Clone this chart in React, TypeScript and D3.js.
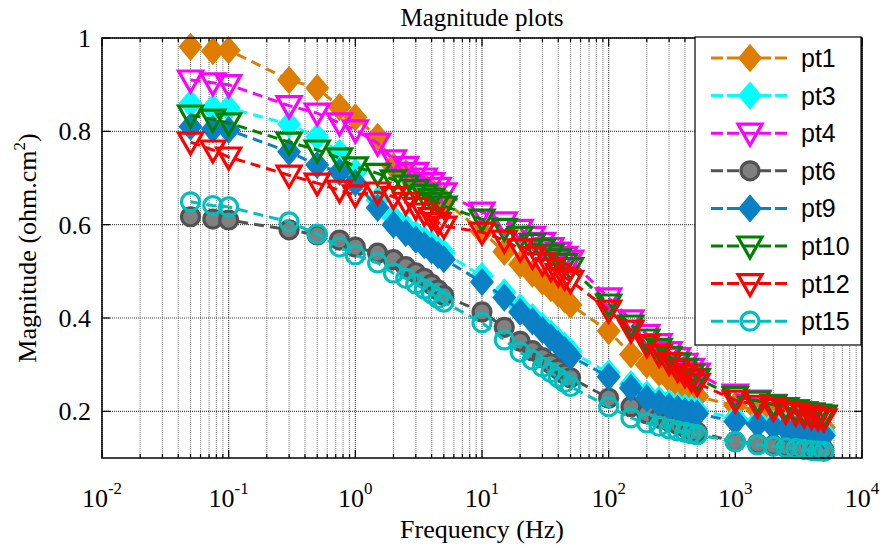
import React from "react";
import * as d3 from "d3";

const freq = [0.05, 0.075, 0.1, 0.3, 0.5, 0.75, 1, 1.5, 2, 2.5, 3, 3.5, 4, 4.5, 5, 10, 15, 20, 25, 30, 35, 40, 45, 50, 100, 150, 200, 250, 300, 350, 400, 450, 500, 1000, 1500, 2000, 2500, 3000, 3500, 4000, 4500, 5000];

const pt1 = [0.981, 0.972, 0.974, 0.91, 0.893, 0.852, 0.83, 0.788, 0.725, 0.71, 0.695, 0.683, 0.672, 0.662, 0.652, 0.585, 0.542, 0.515, 0.495, 0.478, 0.464, 0.452, 0.44, 0.428, 0.372, 0.322, 0.3, 0.283, 0.27, 0.258, 0.249, 0.24, 0.232, 0.212, 0.202, 0.195, 0.188, 0.182, 0.177, 0.173, 0.17, 0.166];
const pt3 = [0.86, 0.85, 0.85, 0.815, 0.788, 0.754, 0.713, 0.653, 0.615, 0.595, 0.58, 0.568, 0.558, 0.548, 0.54, 0.49, 0.455, 0.423, 0.402, 0.383, 0.367, 0.352, 0.34, 0.328, 0.282, 0.258, 0.236, 0.225, 0.218, 0.212, 0.208, 0.205, 0.202, 0.186, 0.179, 0.174, 0.17, 0.167, 0.164, 0.161, 0.158, 0.155];
const pt4 = [0.91, 0.904, 0.9, 0.855, 0.839, 0.818, 0.803, 0.775, 0.739, 0.725, 0.712, 0.7, 0.69, 0.68, 0.668, 0.627, 0.606, 0.59, 0.575, 0.562, 0.551, 0.541, 0.532, 0.524, 0.443, 0.396, 0.365, 0.345, 0.328, 0.315, 0.303, 0.292, 0.282, 0.237, 0.224, 0.215, 0.208, 0.203, 0.199, 0.196, 0.193, 0.19];
const pt6 = [0.617, 0.612, 0.61, 0.589, 0.578, 0.567, 0.552, 0.539, 0.525, 0.51, 0.497, 0.485, 0.472, 0.46, 0.448, 0.413, 0.38, 0.35, 0.33, 0.315, 0.302, 0.29, 0.28, 0.272, 0.228, 0.21, 0.195, 0.185, 0.178, 0.172, 0.166, 0.16, 0.155, 0.135, 0.13, 0.127, 0.124, 0.122, 0.12, 0.119, 0.118, 0.117];
const pt9 = [0.81, 0.805, 0.803, 0.756, 0.728, 0.713, 0.69, 0.636, 0.6, 0.582, 0.568, 0.556, 0.545, 0.535, 0.526, 0.477, 0.444, 0.413, 0.393, 0.374, 0.358, 0.344, 0.331, 0.318, 0.274, 0.25, 0.228, 0.217, 0.21, 0.205, 0.2, 0.197, 0.195, 0.178, 0.172, 0.167, 0.163, 0.16, 0.157, 0.154, 0.151, 0.148];
const pt10 = [0.835, 0.826, 0.818, 0.777, 0.76, 0.743, 0.724, 0.71, 0.696, 0.685, 0.675, 0.665, 0.656, 0.648, 0.64, 0.612, 0.592, 0.575, 0.56, 0.548, 0.537, 0.527, 0.517, 0.508, 0.43, 0.385, 0.355, 0.335, 0.318, 0.304, 0.292, 0.28, 0.27, 0.232, 0.222, 0.214, 0.208, 0.203, 0.199, 0.196, 0.194, 0.192];
const pt12 = [0.777, 0.76, 0.745, 0.706, 0.689, 0.674, 0.664, 0.67, 0.66, 0.648, 0.637, 0.625, 0.615, 0.605, 0.597, 0.584, 0.567, 0.548, 0.532, 0.518, 0.506, 0.495, 0.487, 0.48, 0.417, 0.374, 0.343, 0.322, 0.305, 0.29, 0.279, 0.269, 0.26, 0.224, 0.213, 0.206, 0.2, 0.196, 0.192, 0.189, 0.186, 0.184];
const pt15 = [0.649, 0.641, 0.638, 0.606, 0.58, 0.552, 0.535, 0.518, 0.496, 0.485, 0.473, 0.462, 0.452, 0.442, 0.434, 0.39, 0.353, 0.327, 0.31, 0.295, 0.283, 0.272, 0.262, 0.253, 0.21, 0.186, 0.175, 0.168, 0.162, 0.158, 0.155, 0.152, 0.15, 0.135, 0.128, 0.125, 0.122, 0.12, 0.118, 0.116, 0.115, 0.114];

const seriesNames = ["pt1", "pt3", "pt4", "pt6", "pt9", "pt10", "pt12", "pt15"];
const seriesValues = [pt1, pt3, pt4, pt6, pt9, pt10, pt12, pt15];

const xTickExps = [-2, -1, 0, 1, 2, 3, 4];
const yTicks = [0.2, 0.4, 0.6, 0.8, 1];
const yTickLabels = ["0.2", "0.4", "0.6", "0.8", "1"];

type Style = { line: string; marker: "diamond" | "tri" | "circle"; stroke: string; fill: string };
const styles: Style[] = [
  { line: "#DE7D00", marker: "diamond", stroke: "#DE7D00", fill: "#DE7D00" },
  { line: "#00FFFF", marker: "diamond", stroke: "#00FFFF", fill: "#00FFFF" },
  { line: "#FF00FF", marker: "tri", stroke: "#FF00FF", fill: "none" },
  { line: "#525252", marker: "circle", stroke: "#525252", fill: "#808080" },
  { line: "#0B80C4", marker: "diamond", stroke: "#0B80C4", fill: "#0B80C4" },
  { line: "#008000", marker: "tri", stroke: "#008000", fill: "none" },
  { line: "#FF0000", marker: "tri", stroke: "#FF0000", fill: "none" },
  { line: "#00BFBF", marker: "circle", stroke: "#00BFBF", fill: "none" },
];

const L = 102, R = 862, T = 38, B = 458;

function Marker({ s, x, y }: { s: Style; x: number; y: number }) {
  if (s.marker === "circle") {
    return <circle cx={x} cy={y} r={9} fill={s.fill} stroke={s.stroke} strokeWidth={3.2} />;
  }
  if (s.marker === "diamond") {
    return (
      <path d={`M${x},${y - 13}L${x + 11},${y}L${x},${y + 13}L${x - 11},${y}Z`} fill={s.fill} stroke={s.stroke} strokeWidth={1.5} />
    );
  }
  return (
    <path d={`M${x - 12},${y - 9}L${x + 12},${y - 9}L${x},${y + 12}Z`} fill="none" stroke={s.stroke} strokeWidth={3.2} strokeLinejoin="miter" />
  );
}

export default function App() {
  const x = d3.scaleLog().domain([1e-2, 1e4]).range([L, R]);
  const y = d3.scaleLinear().domain([0.1, 1]).range([B, T]);
  const line = d3
    .line<number>()
    .x((_, i) => x(freq[i]))
    .y((d) => y(d));

  const minor: number[] = [];
  for (let e = -2; e < 4; e++) for (let k = 2; k <= 9; k++) minor.push(k * Math.pow(10, e));
  const majors = xTickExps.map((e) => Math.pow(10, e));

  const serif = "'Liberation Serif', 'Times New Roman', serif";
  const sans = "'Liberation Sans', Arial, sans-serif";
  const legTop = 58, legStep = 37.6;

  return (
    <svg width={883} height={550} style={{ position: "absolute", left: 0, top: 0, background: "#fff" }}>
      <rect x={0} y={0} width={883} height={550} fill="#fff" />
      {/* grid */}
      <g strokeDasharray="1 1" strokeWidth={1.2}>
        {minor.map((m, i) => (
          <line key={"mg" + i} x1={x(m)} x2={x(m)} y1={T} y2={B} stroke="#8a8a8a" />
        ))}
        {majors.map((m, i) => (
          <line key={"Mg" + i} x1={x(m)} x2={x(m)} y1={T} y2={B} stroke="#444" />
        ))}
        {yTicks.map((v, i) => (
          <line key={"yg" + i} x1={L} x2={R} y1={y(v)} y2={y(v)} stroke="#444" />
        ))}
      </g>
      {/* ticks */}
      <g stroke="#000" strokeWidth={1.2}>
        {minor.map((m, i) => (
          <g key={"mt" + i}>
            <line x1={x(m)} x2={x(m)} y1={B} y2={B - 4} />
            <line x1={x(m)} x2={x(m)} y1={T} y2={T + 4} />
          </g>
        ))}
        {majors.map((m, i) => (
          <g key={"Mt" + i}>
            <line x1={x(m)} x2={x(m)} y1={B} y2={B - 8} />
            <line x1={x(m)} x2={x(m)} y1={T} y2={T + 8} />
          </g>
        ))}
        {yTicks.map((v, i) => (
          <g key={"yt" + i}>
            <line x1={L} x2={L + 8} y1={y(v)} y2={y(v)} />
            <line x1={R} x2={R - 8} y1={y(v)} y2={y(v)} />
          </g>
        ))}
      </g>
      {/* series */}
      {seriesValues.map((vals, si) => {
        const s = styles[si];
        return (
          <g key={"s" + si}>
            <path d={line(vals) || ""} fill="none" stroke={s.line} strokeWidth={3} strokeDasharray="10 6" />
            {vals.map((v, i) => (
              <Marker key={i} s={s} x={x(freq[i])} y={y(v)} />
            ))}
          </g>
        );
      })}
      {/* axes box */}
      <rect x={L} y={T} width={R - L} height={B - T} fill="none" stroke="#000" strokeWidth={1.5} />
      {/* tick labels */}
      <g fontFamily={serif} fill="#000">
        {xTickExps.map((e, i) => (
          <text key={"xl" + i} x={x(Math.pow(10, e))} y={507} textAnchor="middle" fontSize={26}>
            10
            <tspan fontSize={17} dy={-13}>{String(e)}</tspan>
          </text>
        ))}
        {yTicks.map((v, i) => (
          <text key={"yl" + i} x={91} y={y(v) + 9} textAnchor="end" fontSize={26}>
            {yTickLabels[i]}
          </text>
        ))}
        <text x={(L + R) / 2} y={538} textAnchor="middle" fontSize={26}>Frequency (Hz)</text>
        <text x={(L + R) / 2} y={26} textAnchor="middle" fontSize={25}>Magnitude plots</text>
        <text transform={`translate(36,${(T + B) / 2}) rotate(-90)`} textAnchor="middle" fontSize={26}>
          Magnitude (ohm.cm<tspan fontSize={17} dy={-11}>2</tspan><tspan dy={11}>)</tspan>
        </text>
      </g>
      {/* legend */}
      <g>
        <rect x={695} y={37} width={166} height={308} fill="#fff" stroke="#000" strokeWidth={1.2} />
        {seriesNames.map((n, i) => {
          const cy = legTop + i * legStep;
          const s = styles[i];
          return (
            <g key={"lg" + i}>
              <line x1={711} x2={787} y1={cy} y2={cy} stroke={s.line} strokeWidth={3} strokeDasharray="12 4" />
              <Marker s={s} x={750} y={cy} />
              <text x={801} y={cy + 9} fontFamily={sans} fontSize={25} fill="#000">{n}</text>
            </g>
          );
        })}
      </g>
    </svg>
  );
}
